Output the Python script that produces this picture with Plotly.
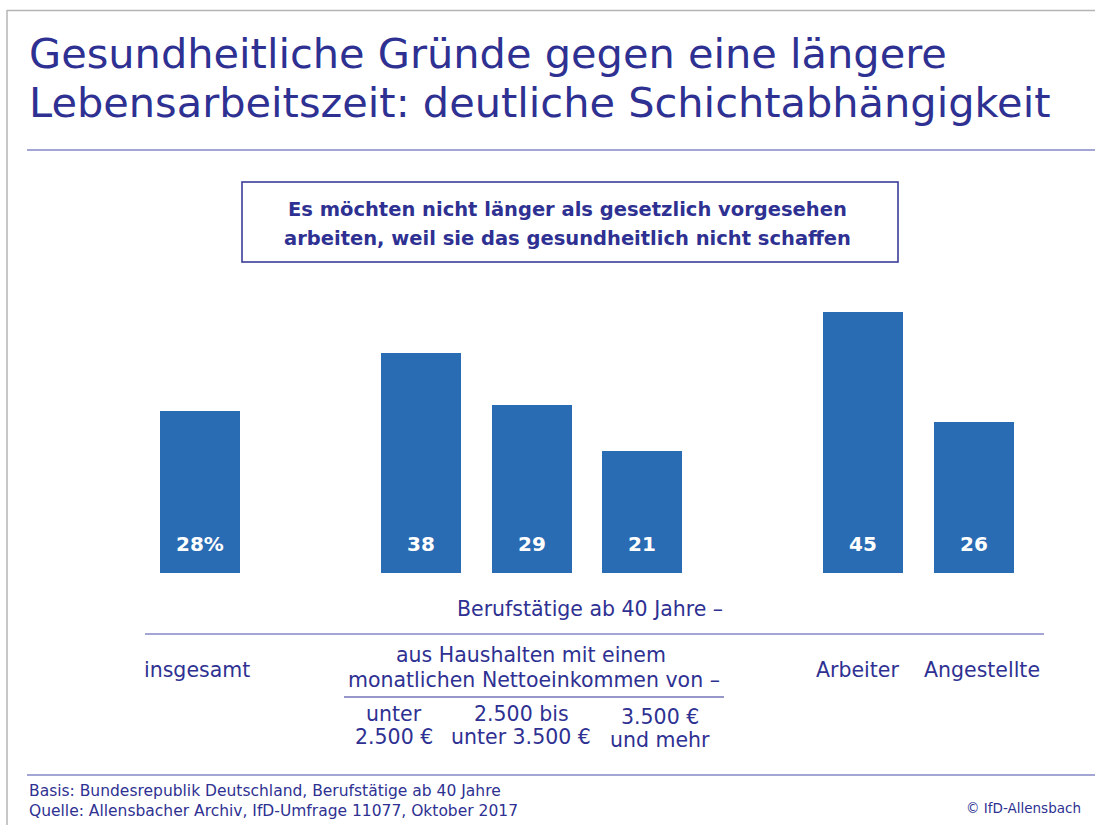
import plotly.graph_objects as go

# ---- data ----
categories = ["insgesamt", "unter 2.500 €", "2.500 bis unter 3.500 €", "3.500 € und mehr", "Arbeiter", "Angestellte"]
slots = [0, 2, 3, 4, 6, 7]          # category slots (gaps between groups)
values = [28, 38, 29, 21, 45, 26]
value_labels = ["28%", "38", "29", "21", "45", "26"]

title_lines = ["Gesundheitliche Gründe gegen eine längere",
               "Lebensarbeitszeit: deutliche Schichtabhängigkeit"]
box_lines = ["Es möchten nicht länger als gesetzlich vorgesehen",
             "arbeiten, weil sie das gesundheitlich nicht schaffen"]
footer_lines = ["Basis: Bundesrepublik Deutschland, Berufstätige ab 40 Jahre",
                "Quelle: Allensbacher Archiv, IfD-Umfrage 11077, Oktober 2017"]
copyright_text = "© IfD-Allensbach"

# ---- styling ----
W, H = 1095, 825
BLUE_TXT = "#2e3192"
BAR = "#2a6cb3"
LINE_LIGHT = "#8487c6"
GRAY = "#b4b4b4"
FONT = "DejaVu Sans"

def px(x):
    return x / W

def py(y):
    return 1 - y / H

slot_px = 110.5
slot0_px = 200
base_px = 573
unit_px = 5.8
top_px = 160

x_range = [(0 - slot0_px) / slot_px, (W - slot0_px) / slot_px]
y_range = [0, (base_px - top_px) / unit_px]

fig = go.Figure()
fig.add_trace(go.Bar(
    x=slots, y=values, width=80 / slot_px,
    marker=dict(color=BAR, line=dict(width=0)),
    hoverinfo="skip", showlegend=False,
))

ann = []
# value labels inside bars, near the base
for s, lab in zip(slots, value_labels):
    ann.append(dict(x=s, y=(base_px - 544) / unit_px, xref="x", yref="y", text=lab,
                    showarrow=False, xanchor="center", yanchor="middle",
                    font=dict(family=FONT, size=20, color="white", weight="bold")))

# title
for i, t in enumerate(title_lines):
    ann.append(dict(x=px(27), y=py(54 + 48 * i), xref="paper", yref="paper", text=t,
                    showarrow=False, xanchor="left", yanchor="middle",
                    font=dict(family=FONT, size=41.5, color=BLUE_TXT)))

# box text
for i, t in enumerate(box_lines):
    ann.append(dict(x=px(567), y=py(209 + 29 * i), xref="paper", yref="paper", text=t,
                    showarrow=False, xanchor="center", yanchor="middle",
                    font=dict(family=FONT, size=19.5, color=BLUE_TXT, weight="bold")))

def label(x, y, t, size=20.5, anchor="center", font=FONT, color=BLUE_TXT):
    ann.append(dict(x=px(x), y=py(y), xref="paper", yref="paper", text=t,
                    showarrow=False, xanchor=anchor, yanchor="middle",
                    font=dict(family=font, size=size, color=color)))

label(590, 609, "Berufstätige ab 40 Jahre –")
label(197, 670, categories[0])
label(531, 655, "aus Haushalten mit einem")
label(534, 680, "monatlichen Nettoeinkommen von –")
label(394, 714, "unter")
label(394, 737, "2.500 €")
label(521, 714, "2.500 bis")
label(521, 737, "unter 3.500 €")
label(660, 717, "3.500 €")
label(660, 740, "und mehr")
label(857, 670, categories[4])
label(982, 670, categories[5])

label(27, 791, footer_lines[0], size=15.5, anchor="left")
label(27, 811, footer_lines[1], size=15.5, anchor="left")
label(1083, 808, copyright_text, size=13.5, anchor="right")

shapes = []
def hline(x0, x1, y, color, w=1.3):
    shapes.append(dict(type="line", xref="paper", yref="paper", x0=px(x0), x1=px(x1),
                       y0=py(y), y1=py(y), line=dict(color=color, width=w)))

# frame
hline(7, W, 10.5, GRAY, 1.5)
shapes.append(dict(type="line", xref="paper", yref="paper", x0=px(7), x1=px(7),
                   y0=py(10), y1=0, line=dict(color=GRAY, width=1.5)))
hline(27, W, 150, LINE_LIGHT)
shapes.append(dict(type="rect", xref="paper", yref="paper", x0=px(242), x1=px(898),
                   y0=py(262), y1=py(182), line=dict(color=BLUE_TXT, width=1.5)))
hline(145, 1044, 634, LINE_LIGHT)
hline(344, 724, 697, BLUE_TXT, 1.2)
hline(27, W, 775, LINE_LIGHT)

fig.update_layout(
    width=W, height=H,
    margin=dict(l=0, r=0, t=0, b=0),
    paper_bgcolor="white", plot_bgcolor="white",
    xaxis=dict(range=x_range, domain=[0, 1], visible=False, fixedrange=True),
    yaxis=dict(range=y_range, domain=[py(base_px), py(top_px)], visible=False, fixedrange=True),
    annotations=ann, shapes=shapes,
    bargap=0,
)

fig.write_html("out.html", config={"displayModeBar": False},
               post_script="document.body.style.margin='0';")
